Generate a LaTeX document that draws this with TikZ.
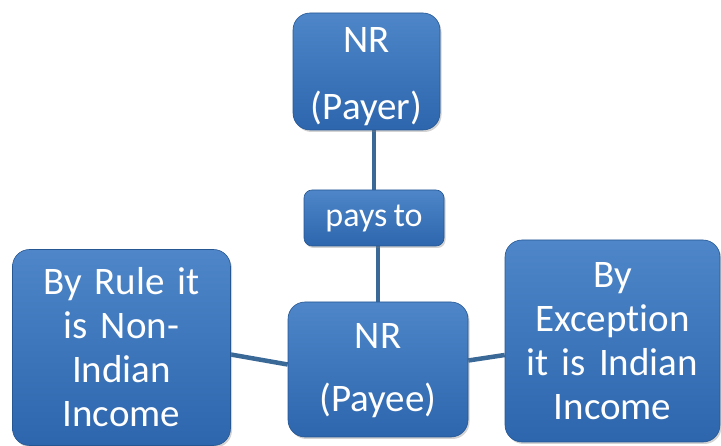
\documentclass[tikz,border=0pt]{standalone}
\usepackage{fontspec}
\setmainfont[WordSpace=0.8,RawFeature={-liga;-clig;-calt;-dlig}]{Carlito}
\usetikzlibrary{shadows,backgrounds,calc}
\definecolor{boxtop}{HTML}{4E86C9}
\definecolor{boxbot}{HTML}{2D66AD}
\definecolor{linkblue}{HTML}{3B6997}
\tikzset{
  x=1pt, y=1pt,
  bluebox/.style={rounded corners=17pt, top color=boxtop, bottom color=boxbot,
    draw=boxbot!85!black, line width=0.6pt, text=white, align=center,
    drop shadow={shadow xshift=1.5pt, shadow yshift=-2pt, opacity=0.35},
    inner sep=2pt},
  boxtext/.style={text=white, align=center, inner sep=0pt},
  bigtext/.style={font=\fontsize{39}{44}\selectfont},
  smalltext/.style={font=\fontsize{34}{38}\selectfont},
  link/.style={draw=linkblue, line width=4.5pt}
}
\begin{document}
\begin{tikzpicture}
\useasboundingbox (0,0) rectangle (721,-446);
% boxes
\node[bluebox, minimum width=147, minimum height=117] (payer) at (366.5,-71.5) {};
\node[boxtext, bigtext] (payertext) at ([yshift=-5]payer.center) {NR\\[23pt](Payer)};
\node[bluebox, smalltext, minimum width=140, minimum height=56, rounded corners=8pt] (paysto) at (374,-218) {pays to};
\node[bluebox, minimum width=180, minimum height=135] (payee) at (378,-369.5) {};
\node[boxtext, bigtext] (payeetext) at ([yshift=-1]payee.center) {NR\\[19pt](Payee)};
\node[bluebox, bigtext, minimum width=215, minimum height=202, text width=205] (except) at (612.5,-341) {By\\Excep\kern0pt tion\\it is Indian\\Income};
\node[bluebox, bigtext, minimum width=218, minimum height=196, text width=205] (rule) at (121.5,-347.5) {By Rule it\\is Non-\\Indian\\Income};
% connectors
\begin{scope}[on background layer]
  \draw[link] (paysto.north) -- (paysto.north |- payer.south);
  \draw[link] (payee.north) -- (payee.north |- paysto.south);
  \draw[link] ([yshift=-7]rule.east) -- ([yshift=5]payee.west);
  \draw[link] ([yshift=9]payee.east) -- ([yshift=-14]except.west);
\end{scope}
\end{tikzpicture}
\end{document}
